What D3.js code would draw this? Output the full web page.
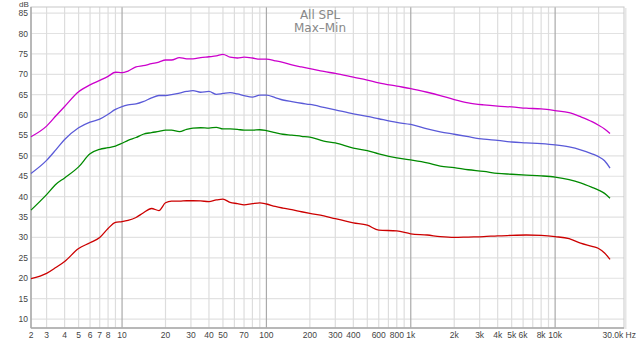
<!doctype html>
<html>
<head>
<meta charset="utf-8">
<title>All SPL Max-Min</title>
<script src="https://cdnjs.cloudflare.com/ajax/libs/d3/7.8.5/d3.min.js"></script>
<style>
  body { margin: 0; background: #fff; }
  svg text { font-family: "Liberation Sans", Arial, sans-serif; }
  svg text.title { font-family: "DejaVu Sans", Verdana, sans-serif; }
</style>
</head>
<body>
<div id="chart"></div>
<script>
// frequencies (Hz) shared by all four traces
const freqs = [2.34, 3, 3.5, 4, 5, 6, 7, 8, 9, 10, 11, 12.5, 14, 16, 18, 20, 22, 25, 28, 31, 35, 40, 45, 50,
  56, 63, 70, 80, 90, 100, 115, 130, 150, 175, 200, 250, 300, 400, 500, 600, 800, 1000, 1300, 1600, 2000,
  2500, 3200, 4000, 5000, 6300, 8000, 10000, 12500, 15000, 18000, 20000, 22000, 24000];

const magenta = [54.7, 57.3, 59.9, 62.1, 65.7, 67.4, 68.5, 69.5, 70.5, 70.4, 70.8, 71.8, 72.1, 72.6, 73.0, 73.5, 73.5, 74.1, 73.8, 73.8, 74.1, 74.3, 74.5, 74.9,
  74.2, 74.0, 74.2, 74.0, 73.7, 73.7, 73.3, 72.9, 72.3, 71.8, 71.4, 70.7, 70.2, 69.3, 68.6, 67.9, 67.1, 66.5, 65.6, 64.8, 63.8,
  63.0, 62.5, 62.2, 62.0, 61.7, 61.5, 61.1, 60.6, 59.6, 58.4, 57.5, 56.6, 55.5];

const blue = [45.7, 48.9, 51.6, 54.0, 56.9, 58.3, 59.0, 60.2, 61.4, 62.1, 62.5, 62.75, 63.3, 64.2, 64.8, 64.8, 65.0, 65.4, 65.8, 66.0, 65.6, 65.8, 65.1, 65.3,
  65.5, 65.2, 64.8, 64.4, 64.9, 64.9, 64.3, 63.7, 63.3, 62.9, 62.6, 61.9, 61.3, 60.3, 59.7, 59.1, 58.2, 57.7, 56.6, 55.9, 55.3,
  54.7, 54.1, 53.8, 53.4, 53.2, 53.0, 52.7, 52.2, 51.5, 50.5, 49.8, 48.8, 47.0];

const green = [36.7, 40.5, 43.1, 44.6, 47.3, 50.5, 51.6, 52.0, 52.4, 53.1, 53.8, 54.5, 55.3, 55.7, 56.0, 56.3, 56.3, 55.95, 56.5, 56.8, 56.9, 56.8, 57.0, 56.6,
  56.6, 56.5, 56.3, 56.3, 56.4, 56.2, 55.7, 55.3, 55.1, 54.8, 54.6, 53.6, 53.2, 51.9, 51.3, 50.5, 49.5, 49.0, 48.3, 47.5, 47.1,
  46.6, 46.2, 45.7, 45.5, 45.3, 45.1, 44.8, 44.2, 43.4, 42.3, 41.6, 40.8, 39.6];

const red = [19.9, 21.2, 22.7, 24.1, 27.3, 28.7, 30.0, 32.2, 33.7, 33.9, 34.2, 34.9, 36.0, 37.1, 36.6, 38.5, 38.9, 38.9, 39.0, 39.0, 38.95, 38.8, 39.2, 39.4,
  38.6, 38.3, 38.0, 38.3, 38.5, 38.2, 37.6, 37.2, 36.8, 36.3, 35.9, 35.3, 34.6, 33.6, 33.0, 31.8, 31.6, 30.9, 30.6, 30.2, 30.0,
  30.1, 30.2, 30.4, 30.5, 30.6, 30.5, 30.2, 29.7, 28.6, 27.8, 27.3, 26.2, 24.6];

const seriesColors = ['#cc00cc', '#5a5ad8', '#008a00', '#cc0000'];

const yTicks = [10, 15, 20, 25, 30, 35, 40, 45, 50, 55, 60, 65, 70, 75, 80, 85];
const xTickVals = [2.34, 3, 4, 5, 6, 7, 8, 10, 20, 30, 40, 50, 70, 100, 200, 300, 400, 600, 800,
  1000, 2000, 3000, 4000, 5000, 6000, 8000, 10000];
const xTickText = ['2', '3', '4', '5', '6', '7', '8', '10', '20', '30', '40', '50', '70', '100', '200', '300', '400', '600', '800',
  '1k', '2k', '3k', '4k', '5k', '6k', '8k', '10k'];

const W = 640, H = 340;
const plotL = 31, plotR = 624, plotT = 7, plotB = 328;

const svg = d3.select('#chart').append('svg')
  .attr('width', W)
  .attr('height', H);

const x = d3.scaleLog().domain([2.34, 30000]).range([plotL, plotR]);
const y = d3.scaleLinear().domain([7.8, 86.5]).range([plotB, plotT]);

// vertical grid: every 1..9 x decade
const gridFreqs = [];
[1, 10, 100, 1000, 10000].forEach(dec => {
  for (let m = 1; m <= 9; m++) {
    const f = m * dec;
    if (f > 2.34 && f < 30000) gridFreqs.push(f);
  }
});

svg.append('g').selectAll('line')
  .data(yTicks)
  .join('line')
  .attr('x1', plotL).attr('x2', plotR)
  .attr('y1', d => y(d)).attr('y2', d => y(d))
  .attr('stroke', '#e2e2e2')
  .attr('stroke-width', 1.2);

svg.append('g').selectAll('line')
  .data(gridFreqs)
  .join('line')
  .attr('x1', d => x(d)).attr('x2', d => x(d))
  .attr('y1', plotT).attr('y2', plotB)
  .attr('stroke', d => [10, 100, 1000, 10000].includes(d) ? '#aaaaaa' : '#dddddd')
  .attr('stroke-width', 1.2);

// frame
svg.append('rect')
  .attr('x', plotL).attr('y', plotT)
  .attr('width', plotR - plotL).attr('height', plotB - plotT)
  .attr('fill', 'none')
  .attr('stroke', '#c8c8c8');
svg.append('line')
  .attr('x1', plotR + 1.5).attr('x2', plotR + 1.5)
  .attr('y1', plotT + 1).attr('y2', plotB + 1)
  .attr('stroke', '#e6e6e6').attr('stroke-width', 2);
svg.append('line')
  .attr('x1', plotL).attr('x2', plotL)
  .attr('y1', plotT).attr('y2', plotB)
  .attr('stroke', '#aaaaaa').attr('stroke-width', 1.5);
svg.append('line')
  .attr('x1', plotL).attr('x2', plotR)
  .attr('y1', plotB).attr('y2', plotB)
  .attr('stroke', '#aaaaaa').attr('stroke-width', 1.5);

// y tick labels
svg.append('g').selectAll('text')
  .data(yTicks)
  .join('text')
  .attr('x', 28)
  .attr('y', d => y(d) + 3)
  .attr('text-anchor', 'end')
  .attr('font-size', '8.5px')
  .attr('fill', '#444')
  .text(d => d);

svg.append('text')
  .attr('x', 19).attr('y', 7)
  .attr('font-size', '8px')
  .attr('fill', '#444')
  .text('dB');

// x tick labels
svg.append('g').selectAll('text')
  .data(xTickVals)
  .join('text')
  .attr('x', (d, i) => i === 0 ? plotL : x(d))
  .attr('y', 338)
  .attr('text-anchor', 'middle')
  .attr('font-size', '8.5px')
  .attr('fill', '#444')
  .text((d, i) => xTickText[i]);

svg.append('text')
  .attr('x', 636).attr('y', 338)
  .attr('text-anchor', 'end')
  .attr('font-size', '8.5px')
  .attr('fill', '#444')
  .text('30.0k Hz');

// title
svg.append('text')
  .attr('class', 'title')
  .attr('x', 320).attr('y', 19)
  .attr('text-anchor', 'middle')
  .attr('font-size', '12px')
  .attr('fill', '#888')
  .text('All SPL');
svg.append('text')
  .attr('class', 'title')
  .attr('x', 320).attr('y', 31.5)
  .attr('text-anchor', 'middle')
  .attr('font-size', '12px')
  .attr('fill', '#888')
  .text('Max\u2013Min');

// traces
const line = d3.line()
  .x(d => x(d[0]))
  .y(d => y(d[1]))
  .curve(d3.curveMonotoneX);

[magenta, blue, green, red].forEach((vals, i) => {
  svg.append('path')
    .datum(freqs.map((f, j) => [f, vals[j]]))
    .attr('d', line)
    .attr('fill', 'none')
    .attr('stroke', seriesColors[i])
    .attr('stroke-width', 1.3);
});
</script>
</body>
</html>
